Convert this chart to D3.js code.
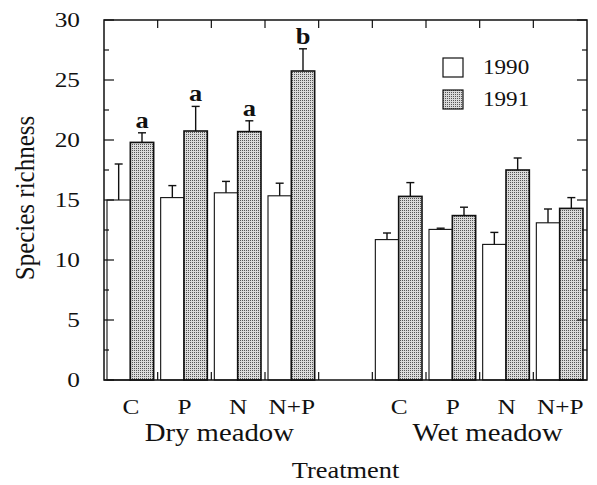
<!DOCTYPE html>
<meta charset="utf-8">
<style>
body { margin: 0; background: #fff; }
svg { display: block; }
text { font-family: "Liberation Serif", "Times New Roman", serif; fill: #111; }
</style>
<svg width="597" height="485"></svg>
<script src="https://cdn.jsdelivr.net/npm/d3@7"></script>
<script>
// data
var treatments = ["C", "P", "N", "N+P"]
var meadows = ["Dry meadow", "Wet meadow"]
var years = ["1990", "1991"]

var dry1990 = [15.0, 15.2, 15.6, 15.35]
var dry1990se = [3.0, 1.0, 0.95, 1.05]
var dry1991 = [19.8, 20.75, 20.7, 25.75]
var dry1991se = [0.8, 2.05, 0.9, 1.85]
var wet1990 = [11.7, 12.55, 11.3, 13.1]
var wet1990se = [0.55, 0.1, 1.0, 1.15]
var wet1991 = [15.3, 13.7, 17.5, 14.3]
var wet1991se = [1.15, 0.7, 1.0, 0.9]
var dryLetters = ["a", "a", "a", "b"]

var yTicks = [0, 5, 10, 15, 20, 25, 30]

var svg = d3.select("svg")
var m = {left: 104, right: 587, top: 20, bottom: 380}

// nine slots, the fifth one is the gap between meadows
var slots = []
treatments.forEach(t => slots.push("dry|" + t))
slots.push("gap")
treatments.forEach(t => slots.push("wet|" + t))

var x = d3.scaleBand().domain(slots).range([m.left, m.right])
var x1 = d3.scaleBand().domain(years).range([3, x.bandwidth() - 4])
var y = d3.scaleLinear().domain([0, 30]).range([m.bottom, m.top])

// the scanned type is a bit wider than the font, stretch text sideways
function stretched(sel, px, py, sx){
  return sel.attr("transform", "translate(" + px + "," + py + ") scale(" + sx + ",1)")
}

var defs = svg.append("defs")
var pat = defs.append("pattern")
  .attr("id", "stipple")
  .attr("patternUnits", "userSpaceOnUse")
  .attr("width", 2).attr("height", 2)
pat.append("rect").attr("width", 2).attr("height", 2).attr("fill", "#dadada")
pat.append("rect").attr("width", 1).attr("height", 1).attr("fill", "#555")

var bars = []
function addBars(meadow, vals, ses, year){
  vals.forEach((v, i) => bars.push({slot: meadow + "|" + treatments[i], year: year, v: v, se: ses[i]}))
}
addBars("dry", dry1990, dry1990se, "1990")
addBars("dry", dry1991, dry1991se, "1991")
addBars("wet", wet1990, wet1990se, "1990")
addBars("wet", wet1991, wet1991se, "1991")

function bx(d){ return x(d.slot) + x1(d.year) }
function fill(year){ return year === "1991" ? "url(#stipple)" : "#fff" }

svg.append("g").selectAll("rect")
  .data(bars)
  .enter().append("rect")
    .attr("x", bx)
    .attr("y", d => y(d.v))
    .attr("width", x1.bandwidth())
    .attr("height", d => y(0) - y(d.v))
    .attr("fill", d => fill(d.year))
    .attr("stroke", "#111")
    .attr("stroke-width", d => d.year === "1991" ? 1.6 : 1.1)

// one-sided error bars
var eb = svg.append("g").attr("stroke", "#111").attr("stroke-width", 1.4)
eb.selectAll("line.v")
  .data(bars)
  .enter().append("line")
    .attr("class", "v")
    .attr("x1", d => bx(d) + x1.bandwidth() / 2)
    .attr("x2", d => bx(d) + x1.bandwidth() / 2)
    .attr("y1", d => y(d.v))
    .attr("y2", d => y(d.v + d.se))
eb.selectAll("line.cap")
  .data(bars)
  .enter().append("line")
    .attr("class", "cap")
    .attr("x1", d => bx(d) + x1.bandwidth() / 2 - 4)
    .attr("x2", d => bx(d) + x1.bandwidth() / 2 + 4)
    .attr("y1", d => y(d.v + d.se))
    .attr("y2", d => y(d.v + d.se))

// significance letters over the dry 1991 bars
svg.append("g").selectAll("text")
  .data(bars.filter(d => d.year === "1991" && d.slot.startsWith("dry")))
  .enter().append("text")
    .each(function(d){ stretched(d3.select(this), bx(d) + x1.bandwidth() / 2, y(d.v + d.se) - 5, 1.15) })
    .attr("text-anchor", "middle")
    .style("font-size", "23px")
    .style("font-weight", "bold")
    .text((d, i) => dryLetters[i])

// frame
svg.append("rect")
  .attr("x", m.left).attr("y", m.top)
  .attr("width", m.right - m.left).attr("height", m.bottom - m.top)
  .attr("fill", "none").attr("stroke", "#111").attr("stroke-width", 1.5)

// inward ticks on left and right
var yMinor = d3.range(0, 30.1, 2.5)
var tk = svg.append("g").attr("stroke", "#111").attr("stroke-width", 1.2)
yMinor.forEach(v => {
  var len = v % 5 === 0 ? 10 : 5
  tk.append("line").attr("x1", m.left).attr("x2", m.left + len).attr("y1", y(v)).attr("y2", y(v))
  tk.append("line").attr("x1", m.right).attr("x2", m.right - len).attr("y1", y(v)).attr("y2", y(v))
})
// ticks on top and bottom at slot boundaries
slots.slice(1).forEach(s => {
  tk.append("line").attr("x1", x(s)).attr("x2", x(s)).attr("y1", m.top).attr("y2", m.top + 8)
  tk.append("line").attr("x1", x(s)).attr("x2", x(s)).attr("y1", m.bottom).attr("y2", m.bottom - 8)
})

// y tick labels
svg.append("g").selectAll("text")
  .data(yTicks)
  .enter().append("text")
    .each(function(d){ stretched(d3.select(this), 80, y(d) + 7, 1.15) })
    .attr("text-anchor", "end")
    .style("font-size", "22px")
    .text(d => d)

// treatment labels
svg.append("g").selectAll("text")
  .data(slots.filter(s => s !== "gap"))
  .enter().append("text")
    .each(function(s){ stretched(d3.select(this), x(s) + x.bandwidth() / 2, 414, 1.15) })
    .attr("text-anchor", "middle")
    .style("font-size", "22px")
    .text(s => s.split("|")[1])

// meadow labels
svg.append("g").selectAll("text")
  .data(meadows)
  .enter().append("text")
    .each(function(d, i){
      var pre = i === 0 ? "dry|" : "wet|"
      var a = x(pre + treatments[0]), b = x(pre + treatments[3]) + x.bandwidth()
      stretched(d3.select(this), (a + b) / 2 + 8, 441, 1.15)
    })
    .attr("text-anchor", "middle")
    .style("font-size", "25px")
    .text(d => d)

stretched(svg.append("text"), (m.left + m.right) / 2, 478, 1.1)
  .attr("text-anchor", "middle")
  .style("font-size", "24px")
  .text("Treatment")

svg.append("text")
  .attr("transform", "translate(34," + (y(15) - 2) + ") rotate(-90) scale(1,1.12)")
  .attr("text-anchor", "middle")
  .style("font-size", "25px")
  .text("Species richness")

// legend
var lg = svg.append("g").attr("transform", "translate(443,58)")
years.forEach((yr, i) => {
  lg.append("rect")
    .attr("x", 0).attr("y", i * 32)
    .attr("width", 20).attr("height", 19)
    .attr("fill", fill(yr))
    .attr("stroke", "#111").attr("stroke-width", 1.2)
  stretched(lg.append("text"), 40, i * 32 + 16, 1.05)
    .style("font-size", "22px")
    .text(yr)
})
</script>
